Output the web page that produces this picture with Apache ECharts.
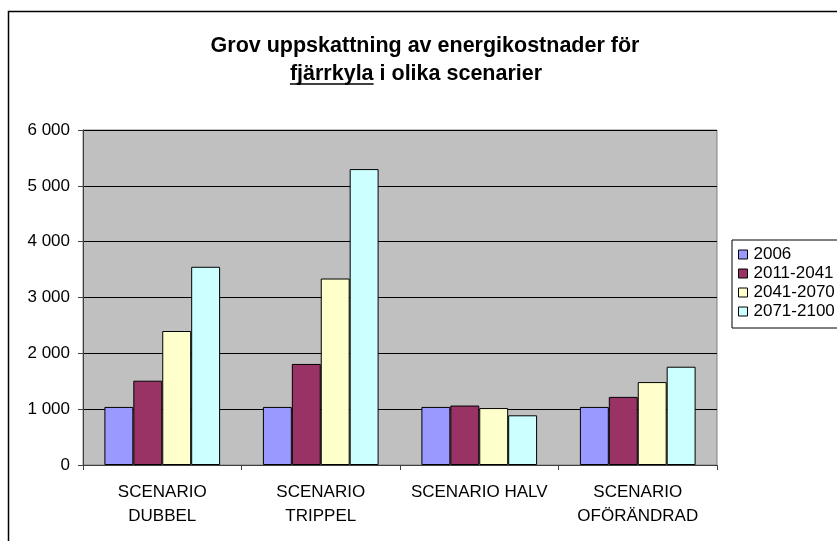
<!DOCTYPE html>
<html>
<head>
<meta charset="utf-8">
<script src="https://cdn.jsdelivr.net/npm/echarts@6/dist/echarts.min.js"></script>
<style>
html,body{margin:0;padding:0;background:#fff;}
#chart{width:837px;height:541px;}
</style>
</head>
<body>
<div id="chart"></div>
<script>
const titleLine1 = 'Grov uppskattning av energikostnader för';
const titleUnderlined = 'fjärrkyla';
const titleRest = ' i olika scenarier';
const categories = ['SCENARIO\nDUBBEL', 'SCENARIO\nTRIPPEL', 'SCENARIO HALV', 'SCENARIO\nOFÖRÄNDRAD'];
const seriesNames = ['2006', '2011-2041', '2041-2070', '2071-2100'];
const s2006 = [1040, 1040, 1040, 1040];
const s2011 = [1510, 1810, 1065, 1220];
const s2041 = [2400, 3340, 1020, 1485];
const s2071 = [3550, 5300, 890, 1760];
const yTicks = [0, 1000, 2000, 3000, 4000, 5000, 6000];
const colors = ['#9999FF', '#993366', '#FFFFCC', '#CCFFFF'];
const values = [s2006, s2011, s2041, s2071];

const font = 'Arial, "Liberation Sans", sans-serif';
const titleSize = 21.5;
const labelSize = 17;

// measure title line 2 for underline placement
const ctx = document.createElement('canvas').getContext('2d');
ctx.font = 'bold ' + titleSize + 'px ' + font;
const line2 = titleUnderlined + titleRest;
const w2 = ctx.measureText(line2).width;
const wU = ctx.measureText(titleUnderlined).width;
const line1Cx = 425, line2Cx = 416;
const line1Y = 46, line2Y = 74;
const line2Left = line2Cx - w2 / 2;

const titleStyle = {fontFamily: font, fontSize: titleSize, fontWeight: 'bold', fill: '#000'};

const chart = echarts.init(document.getElementById('chart'));
chart.setOption({
  animation: false,
  backgroundColor: '#fff',
  graphic: [
    {type: 'rect', shape: {x: 8.5, y: 11.5, width: 1000, height: 1000}, style: {fill: 'none', stroke: '#000', lineWidth: 1.5}, silent: true, z: 100},
    {type: 'text', x: line1Cx, y: line1Y, style: Object.assign({text: titleLine1, align: 'center', verticalAlign: 'middle'}, titleStyle)},
    {type: 'text', x: line2Left, y: line2Y, style: Object.assign({text: line2, align: 'left', verticalAlign: 'middle'}, titleStyle)},
    {type: 'line', shape: {x1: line2Left, y1: line2Y + 10, x2: line2Left + wU, y2: line2Y + 10}, style: {stroke: '#000', lineWidth: 1.5}}
  ],
  legend: {
    orient: 'vertical', left: 732, top: 240,
    itemWidth: 9, itemHeight: 9, itemGap: 2,
    padding: [6, 20, 8, 6],
    borderColor: '#000', borderWidth: 1, backgroundColor: '#fff',
    icon: 'rect',
    itemStyle: {borderColor: '#000', borderWidth: 1},
    textStyle: {fontFamily: font, fontSize: labelSize, color: '#000', padding: [0, 0, 0, 1]},
    data: seriesNames
  },
  grid: {left: 83, right: 120, top: 130, bottom: 76, containLabel: false,
         show: true, backgroundColor: '#C0C0C0', borderColor: '#808080', borderWidth: 1},
  xAxis: {
    type: 'category', data: categories,
    axisLine: {lineStyle: {color: '#404040', width: 1}},
    axisTick: {show: true, length: 5, lineStyle: {color: '#404040'}},
    axisLabel: {fontFamily: font, fontSize: labelSize, color: '#000', margin: 15, lineHeight: 24, interval: 0}
  },
  yAxis: {
    type: 'value', min: 0, max: 6000, interval: 1000,
    axisLine: {show: true, lineStyle: {color: '#404040', width: 1}},
    axisTick: {show: true, length: 5, lineStyle: {color: '#404040'}},
    splitLine: {lineStyle: {color: '#000', width: 1}},
    axisLabel: {fontFamily: font, fontSize: labelSize, color: '#000', margin: 13,
      formatter: v => yTicks.includes(v) ? String(v).replace(/\B(?=(\d{3})+(?!\d))/g, ' ') : ''}
  },
  series: seriesNames.map((n, i) => ({
    name: n, type: 'bar', data: values[i],
    barGap: '0%', barCategoryGap: '27%',
    itemStyle: {color: colors[i], borderColor: '#000', borderWidth: 1}
  }))
});
</script>
</body>
</html>
